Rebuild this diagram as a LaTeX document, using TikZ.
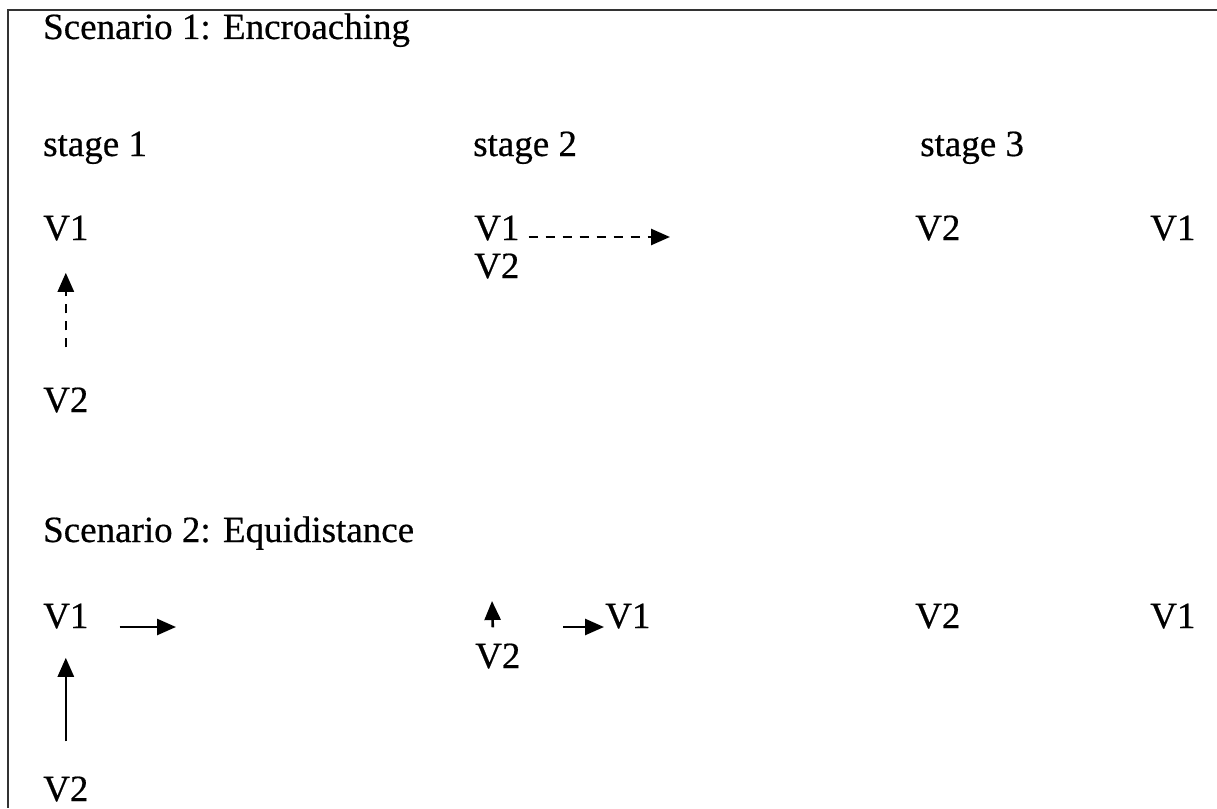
\documentclass[tikz,border=0pt]{standalone}
\usepackage{fontspec}
\setmainfont{Liberation Serif}[FakeBold=0.5]
\usetikzlibrary{arrows.meta}
\begin{document}
\begin{tikzpicture}[x=1pt, y=-1pt,
    lbl/.style={anchor=base west, inner sep=0pt, font=\fontsize{37}{40}\selectfont},
    mv/.style={line width=2.6pt, -{Triangle[length=19pt,width=16pt]}},
    mvdash/.style={mv, dash pattern=on 9pt off 8pt}]
    \useasboundingbox (0,0) rectangle (1217,808);
    % Frame (cut off at the right and the bottom)
    \draw[line width=2.5pt, black!80] (1217,10) -- (8,10) -- (8,808);

    % Scenario 1: Encroaching
    \node[lbl] (sOne) at (43,39) {Scenario 1: Encroaching};
    \node[lbl] (stOne) at (43,156) {stage 1};
    \node[lbl] (stTwo) at (473,156) {stage 2};
    \node[lbl] (stThree) at (920,156) {stage 3};

    % stage 1: V2 moves up to V1
    \node[lbl] (aVone) at (43,240) {V1};
    \node[lbl] (aVtwo) at (43,412) {V2};
    \draw[mvdash, shorten <=40pt, shorten >=32pt] (aVtwo.north) -- (aVone.south);

    % stage 2: V1 pushed to the right
    \node[lbl] (bVone) at (474,240) {V1};
    \node[lbl] (bVtwo) at (474,278) {V2};
    \coordinate (bGo) at (670,237);
    \draw[mvdash] ([xshift=9pt,yshift=3pt]bVone.base east) -- (bGo);

    % stage 3
    \node[lbl] (cVtwo) at (915,240) {V2};
    \node[lbl] (cVone) at (1150,240) {V1};

    % Scenario 2: Equidistance
    \node[lbl] (sTwo) at (43,542) {Scenario 2: Equidistance};

    % stage 1: both move
    \node[lbl] (dVone) at (43,628) {V1};
    \node[lbl] (dVtwo) at (43,801) {V2};
    \coordinate (dGo) at (176,627);
    \draw[mv] ([xshift=31pt,yshift=1pt]dVone.base east) -- (dGo);
    \draw[mv, shorten <=35pt, shorten >=29pt] (dVtwo.north) -- (dVone.south);

    % stage 2
    \node[lbl] (eVtwo) at (475,668) {V2};
    \node[lbl] (eVone) at (605,628) {V1};
    \coordinate (eUp) at (492,601);
    \coordinate (eFrom) at (563,627);
    \draw[mv] ([xshift=-5pt,yshift=16pt]eVtwo.north) -- (eUp);
    \draw[mv] (eFrom) -- ([xshift=-1pt,yshift=1pt]eVone.base west);

    % stage 3
    \node[lbl] (fVtwo) at (915,628) {V2};
    \node[lbl] (fVone) at (1150,628) {V1};
\end{tikzpicture}
\end{document}
